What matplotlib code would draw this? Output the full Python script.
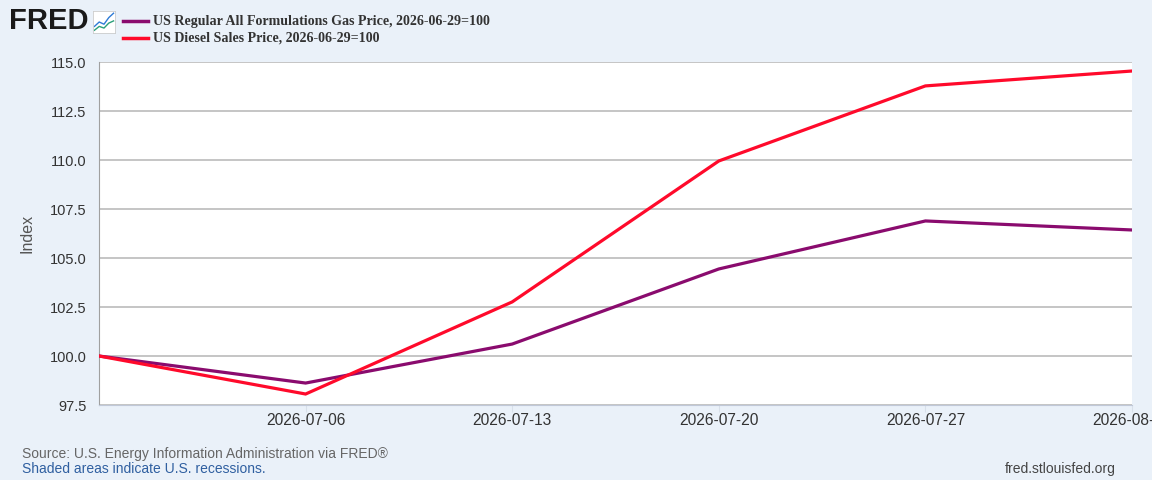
import matplotlib
matplotlib.use("Agg")
import matplotlib.pyplot as plt
import matplotlib.dates as mdates
import numpy as np
import pandas as pd

# weekly index values, 2026-06-29 = 100
dates = pd.to_datetime(["2026-06-29", "2026-07-06", "2026-07-13",
                        "2026-07-20", "2026-07-27", "2026-08-03"])
gas = [100.0, 98.62, 100.61, 104.44, 106.89, 106.43]
diesel = [100.0, 98.06, 102.76, 109.95, 113.78, 114.54]

gas_label = "US Regular All Formulations Gas Price, 2026-06-29=100"
diesel_label = "US Diesel Sales Price, 2026-06-29=100"
tick_dates = pd.to_datetime(["2026-07-06", "2026-07-13", "2026-07-20",
                             "2026-07-27", "2026-08-03"])
yticks = [97.5, 100.0, 102.5, 105.0, 107.5, 110.0, 112.5, 115.0]

bg = "#EAF1F9"
gas_col = "#8A0B6E"
diesel_col = "#FF0A2B"

plt.rcParams['font.family'] = ['Liberation Sans', 'DejaVu Sans']

fig = plt.figure(figsize=(11.52, 4.8), dpi=100, facecolor=bg)
ax = fig.add_axes([99/1152, 75/480, 1033/1152, 343/480])
ax.set_facecolor("white")

ax.plot(dates, gas, color=gas_col, lw=2.3, solid_joinstyle="miter", zorder=3)
ax.plot(dates, diesel, color=diesel_col, lw=2.3, solid_joinstyle="miter", zorder=4)

ax.set_xlim(dates[0], dates[-1])
ax.set_ylim(97.5, 115.0)
ax.set_yticks(yticks)
ax.set_yticklabels([f"{v:.1f}" for v in yticks])
ax.set_xticks(tick_dates)
ax.set_xticklabels([d.strftime("%Y-%m-%d") for d in tick_dates])
ax.grid(axis="y", color="#C0C0C0", lw=1.3, zorder=1)
ax.tick_params(axis="y", length=0, pad=9, labelsize=10.5, labelcolor="#333333")
ax.tick_params(axis="x", length=5, color="#D8E0EA", pad=1, labelsize=11.2,
               labelcolor="#333333")
for s in ["top", "right"]:
    ax.spines[s].set_visible(False)
ax.spines["left"].set_color("#A0A0A0")
ax.spines["bottom"].set_color("#C0C8D8")
ax.set_ylabel("Index", fontsize=11.5, color="#555555", labelpad=11)

# header: logo + legend
fig.text(9/1152, 1 - 21/480, "FRED", fontsize=21, fontweight="bold",
         color="#1a1a1a", va="center", ha="left")
icon = fig.add_axes([93/1152, 1 - 33/480, 22/1152, 22/480])
icon.set_facecolor("white")
icon.plot([0, 1, 2, 3, 4], [1.2, 2.0, 1.6, 2.8, 3.6], color="#2E7BD6", lw=1)
icon.plot([0, 1, 2, 3, 4], [0.5, 1.2, 0.9, 1.8, 2.2], color="#2BA07A", lw=1)
icon.set_xlim(-0.3, 4.3)
icon.set_ylim(0, 4)
icon.set_xticks([])
icon.set_yticks([])
for s in icon.spines.values():
    s.set_color("#CCCCCC")
    s.set_linewidth(0.6)

serif = ['Liberation Serif', 'DejaVu Serif']
for i, (lab, col) in enumerate([(gas_label, gas_col), (diesel_label, diesel_col)]):
    y = 1 - (21 + i * 17) / 480
    fig.add_artist(plt.Line2D([123/1152, 148/1152], [y, y], color=col, lw=2.5,
                              transform=fig.transFigure))
    fig.text(153/1152, y, lab, fontsize=10.1, fontweight="bold", family=serif,
             color="#333333", va="center", ha="left")

# footer
fig.text(22/1152, 1 - 454/480, "Source: U.S. Energy Information Administration via FRED\u00ae",
         fontsize=10, color="#666666", va="center")
fig.text(22/1152, 1 - 469/480, "Shaded areas indicate U.S. recessions.",
         fontsize=10, color="#2F5FA0", va="center")
fig.text(1116/1152, 1 - 469/480, "fred.stlouisfed.org", fontsize=10,
         color="#444444", va="center", ha="right")

fig.savefig("out.png", dpi=100, facecolor=bg)
